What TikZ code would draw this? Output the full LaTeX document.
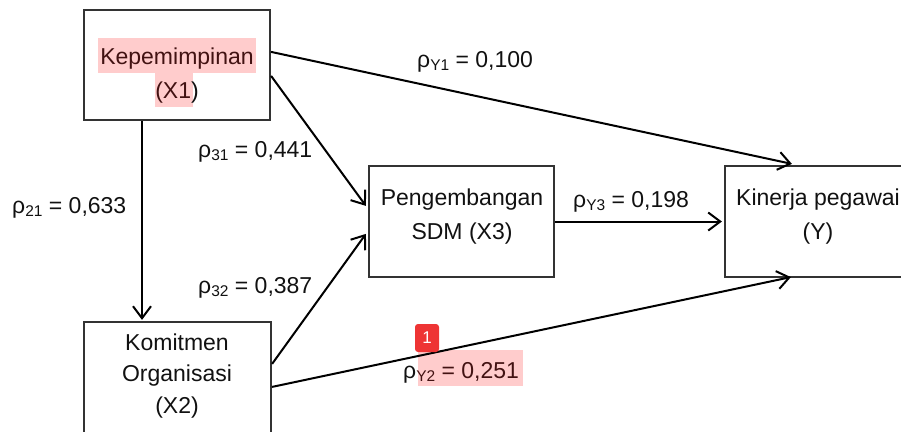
\documentclass[tikz,border=0pt]{standalone}
\usepackage{fontspec}
\setmainfont{Liberation Sans}
\usetikzlibrary{arrows.meta,calc}

\definecolor{ink}{HTML}{111111}
\definecolor{frame}{HTML}{333333}
\definecolor{hlfill}{RGB}{255,204,204}
\definecolor{hltext}{RGB}{66,18,18}
\definecolor{badgered}{RGB}{238,52,52}

% path coefficient: rho with a lowered subscript, then its value
\newcommand{\coef}[2]{ρ\raisebox{-3pt}{\fontsize{15.5}{16}\selectfont #1} = #2}

\begin{document}
\begin{tikzpicture}[x=1pt,y=-1pt,
  box/.style={draw=frame,line width=2.2pt,inner sep=0pt},
  lbl/.style={font=\fontsize{23}{34}\selectfont,text=ink,align=center,inner sep=0pt},
  coefl/.style={font=\fontsize{23}{28}\selectfont,text=ink,inner sep=0pt,anchor=base west},
  arr/.style={draw=black,line width=2pt,-{Straight Barb[length=12pt,width=18pt]}},
]
\useasboundingbox (0,0) rectangle (901,431);
\clip (0,0) rectangle (901,431);

% highlighted text backgrounds
\fill[hlfill] (98,38) rectangle (256,73);
\fill[hlfill] (155,73) rectangle (193,107);
\fill[hlfill] (418,350) rectangle (523,386);

% variable boxes
\node[box,minimum width=186pt,minimum height=110pt] (X1) at (177,65) {};
\node[box,minimum width=187pt,minimum height=120pt] (X2) at (177.5,382) {};
\node[box,minimum width=185pt,minimum height=111pt] (X3) at (461.5,221.5) {};
\node[box,minimum width=186pt,minimum height=111pt] (Y) at (818,221.5) {};

% box texts
\node[lbl] (X1t) at (177,75.7) {\textcolor{hltext}{Kepemimpinan}\\\textcolor{hltext}{(X1}\textcolor{ink}{)}};
\node[lbl,font=\fontsize{23}{31.5}\selectfont] (X2t) at (177,375.7) {Komitmen\\Organisasi\\(X2)};
\node[lbl] (X3t) at (462,216.2) {Pengembangan\\SDM (X3)};
\node[lbl] (Yt) at (818,216.2) {Kinerja pegawai\\(Y)};

% paths
\draw[arr] (X1.south -| 142,0) -- ($(X2.north)+(-35.5,-1)$);
\draw[arr] ($(X1.north east)+(0,43)$) -- ($(Y.north west)+(68,-1)$);
\draw[arr] ($(X1.north east)+(0,67)$) -- ($(X3.north west)+(-2,41)$);
\draw[arr] ($(X2.north east)+(0,43)$) -- ($(X3.north west)+(-2,69)$);
\draw[arr] ($(X2.north east)+(0,66)$) -- ($(Y.south west)+(67,-1)$);
\draw[arr] (X3.east) -- ($(Y.west)+(-2,0)$);

% coefficients
\node[coefl] (p21) at (12,213) {\coef{21}{0,633}};
\node[coefl] (p31) at (198,157) {\coef{31}{0,441}};
\node[coefl] (p32) at (198,293) {\coef{32}{0,387}};
\node[coefl] (pY1) at (417,67) {\coef{Y1}{0,100}};
\node[coefl] (pY3) at (573,207) {\coef{Y3}{0,198}};
\node[coefl] (pY2) at (403,378) {ρ\color{hltext}\raisebox{-3pt}{\fontsize{15.5}{16}\selectfont Y2} = 0,251};

% numbered marker
\node[fill=badgered,rounded corners=3pt,minimum width=24pt,minimum height=28pt,
      inner sep=0pt,text=white,font=\fontsize{17}{17}\selectfont] (m1) at (427,338) {1};
\end{tikzpicture}
\end{document}
